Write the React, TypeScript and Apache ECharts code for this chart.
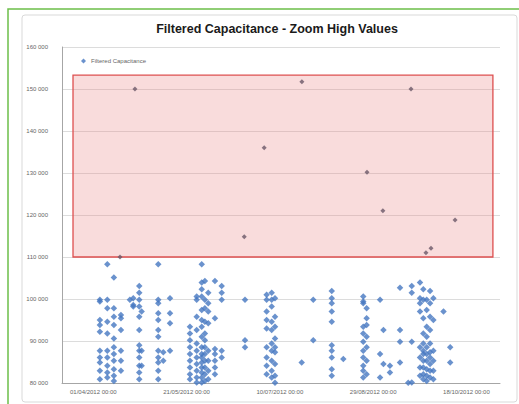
import { useEffect, useRef } from "react";
import * as echarts from "echarts";

// Day 0 = 01/04/2012 00:00
const START_DATE = Date.UTC(2012, 3, 1);
const xTickDays = [0, 50, 100, 150, 200];
const xRange = [-16.8, 218];
const yRange = [80000, 160000];
const yStep = 10000;

const seriesName = "Filtered Capacitance";
const titleText = "Filtered Capacitance - Zoom High Values";

// Low values grouped by day (day offset, values)
const lowColumns: [number, number[]][] = [
  [3.5, [99800, 99400, 95000, 93800, 92200, 87700, 86100, 84900, 82900, 80900]],
  [7.5, [108300, 99800, 97800, 94600, 91800, 87700, 86100, 84100, 82500, 81300]],
  [11, [105100, 97800, 95800, 93800, 90600, 88500, 86900, 85300, 83300, 81700, 80500]],
  [14.8, [96200, 95400, 92600, 87700, 85300, 82900]],
  [19.6, [99800]],
  [21.4, [100200, 98600, 98200]],
  [24.6, [103100, 101500, 99800, 98200, 95800, 92600, 89000, 87700, 86100, 84100, 82500, 80900]],
  [25.9, [97000, 87700, 84100]],
  [34.8, [108300, 99800, 99000, 96600, 95000, 92600, 91000, 87700, 86100, 84900, 82900, 80900]],
  [37.5, [87300, 85300]],
  [41.1, [100200, 96600, 94200, 87700]],
  [51.8, [93400, 91800, 90200, 88500, 86900, 85300, 83700, 82100, 80900]],
  [55.4, [100600, 99800, 95800, 92600, 89400, 87700, 86100, 84500, 82900, 81300, 80100]],
  [58.1, [108300, 103900, 102300, 100600, 97400, 95000, 93400, 91000, 88500, 86900, 86100, 84900, 83700, 82500, 81300, 80100]],
  [59.8, [104300, 99800, 97800, 94600, 91800, 90200, 88500, 86900, 85300, 83700, 82100, 80500]],
  [61.6, [101500, 99000, 97000, 94200, 87700, 85300, 82900, 80900]],
  [65.2, [104300, 95400, 88100, 86900, 85300, 83700, 82100]],
  [68.8, [103100, 101500, 99800, 87700, 86100]],
  [81.3, [99800, 90200, 88500]],
  [92.9, [101000, 99800, 97000, 95000, 93000, 88500, 86100, 84100, 82100]],
  [95.6, [101500, 99800, 98200, 94600, 92600, 89400, 87700, 85300, 82900, 81300]],
  [97.4, [100200, 95800, 93400, 90600, 88500, 87300, 84500, 81700, 80050]],
  [111.7, [84900]],
  [117.9, [99800, 90200]],
  [127.8, [101900, 100200, 99000, 97000, 94600, 89000, 87700, 86100, 83300, 81700]],
  [134.0, [85700]],
  [144.7, [100600, 99400, 99000, 93400, 91800, 89800, 87700, 86100, 84100, 82900, 81300]],
  [146.5, [97800, 95400, 93800, 91000, 88500, 85300, 82100]],
  [153.7, [99800, 86900, 81300]],
  [155.5, [92600, 84500]],
  [159.0, [84100, 82500]],
  [164.4, [102700, 92600, 89800, 84900]],
  [168.8, [80050]],
  [170.7, [103100, 101500, 89800, 80100]],
  [175.1, [103900, 100200, 99000, 97000, 88500, 86100, 83700, 81700]],
  [176.9, [102300, 99800, 95400, 91800, 89400, 87700, 86900, 85300, 83700, 82100, 80900]],
  [178.7, [99800, 97400, 93400, 91000, 88500, 86900, 85300, 83300, 81700, 80500]],
  [180.5, [101900, 99000, 95800, 92600, 89400, 87300, 86100, 84500, 82900, 81300]],
  [182.3, [100200, 95000, 87700, 85300, 82900, 80900]],
  [187.7, [97000]],
  [191.3, [88500, 84900]],
];

// High values (day offset, value)
const highPoints: [number, number][] = [
  [14.3, 110000],
  [22.3, 150000],
  [80.9, 114800],
  [91.6, 136000],
  [111.8, 151700],
  [146.7, 130200],
  [155.2, 121000],
  [170.3, 150000],
  [178.3, 111000],
  [181.0, 112100],
  [193.9, 118800],
];

// Highlighted zoom box (day range, value range)
const boxDays = [-10.9, 214.2];
const boxValues = [110000, 153300];

function fmtDate(day: number): string {
  const d = new Date(START_DATE + Math.round(day) * 86400000);
  const dd = String(d.getUTCDate()).padStart(2, "0");
  const mm = String(d.getUTCMonth() + 1).padStart(2, "0");
  return `${dd}/${mm}/${d.getUTCFullYear()} 00:00`;
}

function fmtNum(v: number): string {
  return String(v).replace(/\B(?=(\d{3})+(?!\d))/g, " ");
}

export default function App() {
  const ref = useRef<HTMLDivElement>(null);
  useEffect(() => {
    if (!ref.current) return;
    const chart = echarts.init(ref.current, undefined, { renderer: "svg" });
    const lowData: [number, number][] = [];
    lowColumns.forEach(([day, vals]) => vals.forEach((v) => lowData.push([day, v])));
    const font = "'Liberation Sans', Arial, sans-serif";
    chart.setOption({
      animation: false,
      backgroundColor: "#ffffff",
      textStyle: { fontFamily: font },
      graphic: [
        {
          type: "rect",
          shape: { x: 8, y: 9, width: 530, height: 420 },
          style: { fill: "none", stroke: "#6cbf4a", lineWidth: 1.5 },
          silent: true,
        },
        {
          type: "rect",
          shape: { x: 22, y: 15, width: 495, height: 387, r: 3 },
          style: { fill: "none", stroke: "#d9d9d9", lineWidth: 1 },
          silent: true,
        },
        {
          type: "text",
          x: 277,
          y: 29,
          style: {
            text: titleText,
            fontFamily: font,
            fontSize: 12.5,
            fontWeight: "bold",
            fill: "#1a1a1a",
            align: "center",
            verticalAlign: "middle",
          },
        },
      ],
      legend: {
        data: [seriesName],
        left: 76,
        top: 53,
        itemWidth: 5,
        itemHeight: 5,
        itemGap: 2,
        icon: "diamond",
        textStyle: { fontSize: 6, color: "#666", fontFamily: font },
      },
      grid: { left: 62, right: 19, top: 47, bottom: 21 },
      xAxis: {
        type: "value",
        min: xRange[0],
        max: xRange[1],
        splitLine: { show: false },
        axisLine: { show: true, onZero: false, lineStyle: { color: "#a6a6a6" } },
        axisTick: { show: false },
        axisLabel: {
          customValues: xTickDays,
          formatter: (v: number) => fmtDate(v),
          fontSize: 6,
          color: "#666",
          margin: 6,
        },
      },
      yAxis: {
        type: "value",
        min: yRange[0],
        max: yRange[1],
        interval: yStep,
        axisLine: { show: true, onZero: false, lineStyle: { color: "#a6a6a6" } },
        axisTick: { show: false },
        splitLine: { lineStyle: { color: "#dcdcdc" } },
        axisLabel: {
          formatter: (v: number) => fmtNum(v),
          fontSize: 6,
          color: "#666",
          margin: 14,
        },
      },
      series: [
        {
          type: "scatter",
          data: [],
          z: 1,
          silent: true,
          markArea: {
            silent: true,
            itemStyle: {
              color: "rgba(236,140,140,0.3)",
              borderColor: "#dd4f4f",
              borderWidth: 1.3,
            },
            data: [[{ coord: [boxDays[0], boxValues[0]] }, { coord: [boxDays[1], boxValues[1]] }]],
          },
        },
        {
          name: seriesName,
          type: "scatter",
          symbol: "diamond",
          symbolSize: 6.5,
          itemStyle: { color: "#4577c0" },
          data: lowData,
          z: 2,
        },
        {
          name: seriesName,
          type: "scatter",
          symbol: "diamond",
          symbolSize: 5,
          itemStyle: { color: "#6a5868" },
          data: highPoints,
          z: 2,
        },
      ],
    });
    return () => chart.dispose();
  }, []);
  return (
    <div
      ref={ref}
      style={{ position: "fixed", left: 0, top: 0, width: 519, height: 404 }}
    />
  );
}
